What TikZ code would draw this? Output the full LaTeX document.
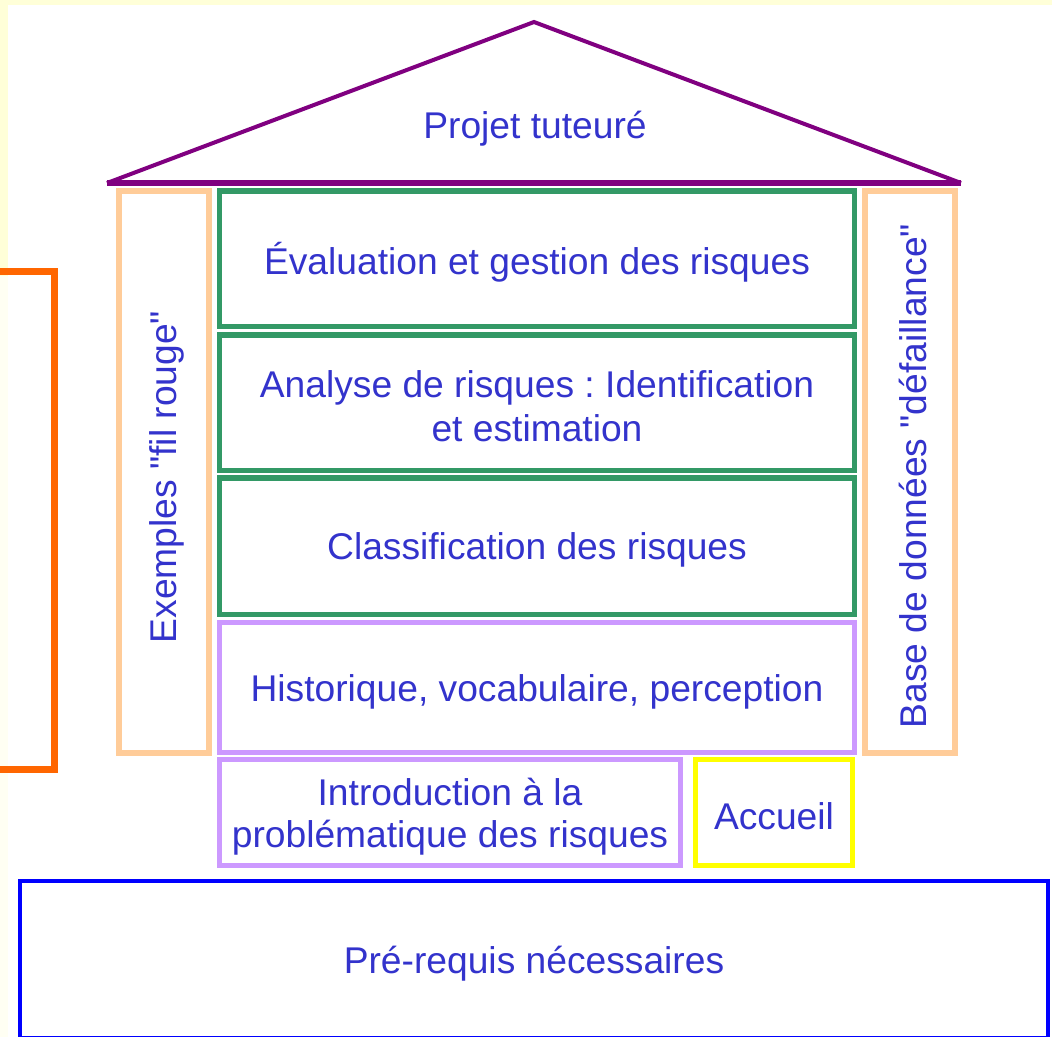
\documentclass[tikz,border=0pt]{standalone}
\usepackage{fontspec}
\setmainfont{Liberation Sans}[Ligatures=TeXOff]
\frenchspacing
\definecolor{txt}{HTML}{3333CC}
\definecolor{bgyellow}{HTML}{FFFFD8}
\definecolor{greenbox}{HTML}{339966}
\definecolor{lilac}{HTML}{CC99FF}
\definecolor{peach}{HTML}{FFCC99}
\definecolor{roofpurple}{HTML}{800080}
\definecolor{orangeline}{HTML}{FF6600}
\definecolor{yellowbox}{HTML}{FFFF00}
\definecolor{bluebox}{HTML}{0000FF}
\begin{document}
\begin{tikzpicture}[x=1bp,y=-1bp,
  every node/.style={font=\fontsize{37.2bp}{44bp}\selectfont\frenchspacing, text=txt, align=center, inner sep=0pt, outer sep=0pt},
  layer/.style={draw=greenbox, line width=5.5bp, minimum width=634.5bp},
  lilacbox/.style={draw=lilac, line width=5bp},
  pillar/.style={draw=peach, line width=6bp, minimum width=90bp, minimum height=562bp},
  roofline/.style={draw=roofpurple, line width=4bp, line join=miter},
  label down/.style={yshift=-4bp},
]
% background
\fill[bgyellow] (0,0) rectangle (1052,1037);
\fill[white] (8,5) rectangle (1052,1037);
\fill[white!70!bgyellow] (0,276) rectangle (8,1037);
\useasboundingbox (0,0) rectangle (1052,1037);

% roof
\coordinate (roofL) at (107,183);
\coordinate (apex) at (534,22);
\coordinate (roofR) at (961,183);
\draw[roofline] (roofL) -- (apex) -- (roofR);
\draw[draw=roofpurple, line width=5.5bp] (roofL) -- (roofR);
\node (projet) at (535,129) {Projet tuteuré};

% pillars
\node[pillar] (fil) at (164,472) {};
\node[rotate=90] (filtxt) at (167,477) {Exemples "fil rouge"};
\node[pillar] (base) at (910,472) {};
\node[rotate=90] (basetxt) at (913,476) {Base de données "défaillance"};

% layers
\node[layer, minimum height=135.5bp] (eval) at (537,258.5) {};
\node[label down] (evaltxt) at (eval) {Évaluation et gestion des risques};
\node[layer, minimum height=135.5bp] (analyse) at (537,402.5) {};
\node[label down] (analysetxt) at (analyse) {Analyse de risques : Identification\\et estimation};
\node[layer, minimum height=136.5bp] (classif) at (537,546) {};
\node[label down] (classiftxt) at (classif) {Classification des risques};
\node[lilacbox, minimum width=635bp, minimum height=130bp] (histo) at (537,687.5) {};
\node[label down] (histotxt) at (histo) {Historique, vocabulaire, perception};
\node[lilacbox, minimum width=461bp, minimum height=106bp] (intro) at (450,812.5) {};
\node[label down, font=\fontsize{37.2bp}{42bp}\selectfont] (introtxt) at (intro) {Introduction à la\\problématique des risques};
\node[draw=yellowbox, line width=5bp, minimum width=157bp, minimum height=106bp] (accueil) at (774,812.5) {};
\node[label down] (accueiltxt) at (accueil) {Accueil};

% foundation
\node[draw=bluebox, line width=4bp, minimum width=1028bp, minimum height=157bp] (prereq) at (534,959.5) {};
\node[label down] (prereqtxt) at (prereq) {Pré-requis nécessaires};

% orange bracket
\coordinate (brTop) at (0,271.5);
\coordinate (brBot) at (0,769.5);
\draw[orangeline, line width=7bp] (brTop) -- (54.5,271.5) -- (54.5,769.5) -- (brBot);
\end{tikzpicture}
\end{document}
